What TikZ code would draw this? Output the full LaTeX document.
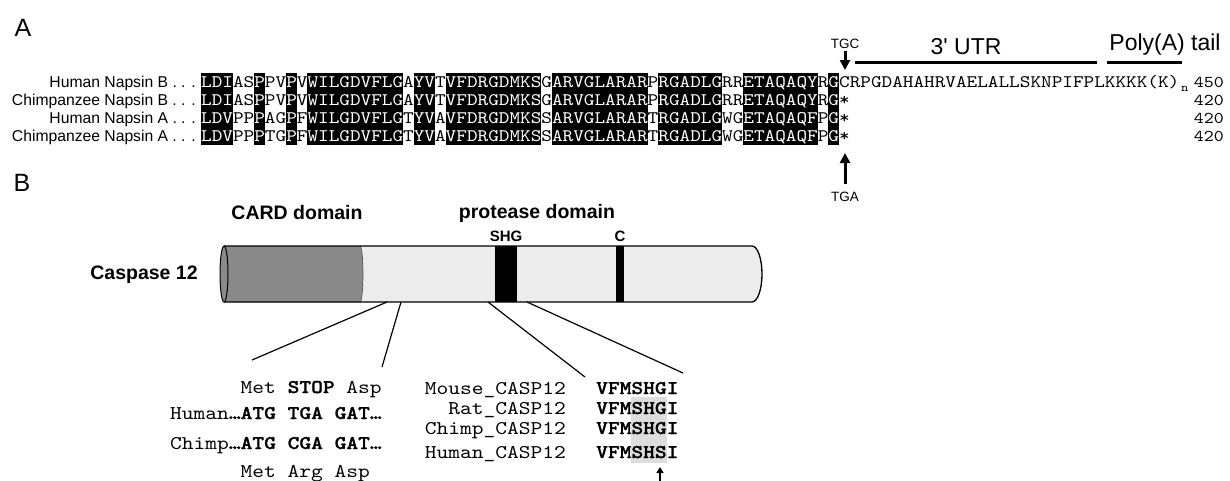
\documentclass[tikz,border=0pt]{standalone}
\usepackage{fontspec}
\setmainfont{Liberation Sans}
\newfontfamily\uifont{Liberation Sans}
% slab-serif typewriter face, widened to the usual 0.6em pitch
\newfontfamily\seqfont{lmmono10-regular.otf}[FakeStretch=1.15, BoldFont=lmmonolt10-bold.otf, BoldFeatures={FakeStretch=1.15, FakeBold=1.2}]
\usetikzlibrary{arrows.meta}

\definecolor{cardgray}{HTML}{8A8A8A}
\definecolor{bodygray}{HTML}{ECECEC}
\definecolor{hlgray}{HTML}{DDDDDD}

\newcommand\W[1]{\textcolor{white}{#1}}
% column width of the alignment font and row pitch
\def\cw{10.634}
\def\ph{18}
\def\ra{82}
\def\rb{100}
\def\rc{118}
\def\rd{136}

\tikzset{
  panel/.style={inner sep=0pt, font=\fontsize{25}{25}\selectfont},
  rowlbl/.style={inner sep=0pt, anchor=base east, font=\fontsize{15.7}{16}\selectfont},
  seqtxt/.style={inner sep=0pt, anchor=base west, font=\seqfont\fontsize{17.61}{18}\selectfont},
  numtxt/.style={inner sep=0pt, anchor=base east, font=\seqfont\fontsize{16.5}{17}\selectfont},
  sitelbl/.style={inner sep=0pt, font=\fontsize{13.5}{14}\selectfont},
  regionlbl/.style={inner sep=0pt, font=\uifont\fontsize{23}{23}\selectfont},
  regline/.style={line width=3pt},
  codon/.style={line width=3pt, -{Triangle[width=10pt,length=10pt]}},
  domlbl/.style={inner sep=0pt, font=\bfseries\fontsize{19.5}{20}\selectfont},
  motiflbl/.style={inner sep=0pt, font=\bfseries\fontsize{15}{15}\selectfont},
  monotxt/.style={inner sep=0pt, font=\seqfont\fontsize{19.46}{20}\selectfont},
  zoomline/.style={line width=1.2pt},
}

\begin{document}
\begin{tikzpicture}[x=1pt,y=-1pt]
\useasboundingbox (0,0) rectangle (1230,480);

% ---------------- panel A: Napsin alignment ----------------
\node[panel] (pA) at (23,28) {A};

% shaded (conserved) columns, given as column ranges
\foreach \a/\b in {1/3,6/6,9/9,11/19,21/22,24/32,34/42,44/49,52/58,60/60}{
  \fill ({201+(\a-1)*\cw},{\ra-\ph/2}) rectangle ({201+\b*\cw},{\rb+\ph/2});
  \fill ({201+(\a-1)*\cw},{\rc-\ph/2}) rectangle ({201+\b*\cw},{\rd+\ph/2});
}

\node[rowlbl] (lHB) at (196,\ra+5.6) {Human Napsin B . . .};
\node[rowlbl] (lCB) at (196,\rb+5.6) {Chimpanzee Napsin B . . .};
\node[rowlbl] (lHA) at (196,\rc+5.6) {Human Napsin A . . .};
\node[rowlbl] (lCA) at (196,\rd+5.6) {Chimpanzee Napsin A . . .};

\node[seqtxt] (sHB) at (201,\ra+5.4) {\W{LDI}AS\W{P}PV\W{P}V\W{WILGDVFLG}A\W{YV}T\W{VFDRGDMKS}G\W{ARVGLARAR}P\W{RGADLG}RR\W{ETAQAQY}R\W{G}CRPGDAHAHRVAELALLSKNPIFPLKKKK(K)};
\node[seqtxt] (sCB) at (201,\rb+5.4) {\W{LDI}AS\W{P}PV\W{P}V\W{WILGDVFLG}A\W{YV}T\W{VFDRGDMKS}G\W{ARVGLARAR}P\W{RGADLG}RR\W{ETAQAQY}R\W{G}*};
\node[seqtxt] (sHA) at (201,\rc+5.4) {\W{LDV}PP\W{P}AG\W{P}F\W{WILGDVFLG}T\W{YV}A\W{VFDRGDMKS}S\W{ARVGLARAR}T\W{RGADLG}WG\W{ETAQAQF}P\W{G}*};
\node[seqtxt] (sCA) at (201,\rd+5.4) {\W{LDV}PP\W{P}TG\W{P}F\W{WILGDVFLG}T\W{YV}A\W{VFDRGDMKS}S\W{ARVGLARAR}T\W{RGADLG}WG\W{ETAQAQF}P\W{G}*};

\node[inner sep=0pt, anchor=base west, font=\seqfont\fontsize{12}{12}\selectfont] (sub) at (1181,\ra+9) {n};

\node[numtxt] (nHB) at (1224,\ra+5) {450};
\node[numtxt] (nCB) at (1224,\rb+5) {420};
\node[numtxt] (nHA) at (1224,\rc+5) {420};
\node[numtxt] (nCA) at (1224,\rd+5) {420};

% stop codons and 3' region
\node[sitelbl] (tgc) at (845,44) {TGC};
\node[sitelbl] (tga) at (845,197) {TGA};
\coordinate (tgcTail) at (845,51);
\coordinate (tgcTip) at (845,70);
\coordinate (tgaTail) at (845,184);
\coordinate (tgaTip) at (845,153);
\draw[codon] (tgcTail) -- (tgcTip);
\draw[codon] (tgaTail) -- (tgaTip);

\coordinate (utrA) at (855,62);
\coordinate (utrB) at (1097,62);
\coordinate (polA) at (1107,62);
\coordinate (polB) at (1182,62);
\draw[regline] (utrA) -- (utrB);
\draw[regline] (polA) -- (polB);
\node[regionlbl] (utr) at (966,47) {3' UTR};
\node[regionlbl] (poly) at (1165,45) {Poly(A) tail};

% ---------------- panel B: caspase 12 ----------------
\node[panel] (pB) at (22,183) {B};

\node[domlbl] (card) at (297,213) {CARD domain};
\node[domlbl] (prot) at (537,213) {protease domain};
\node[motiflbl] (shg) at (506,236) {SHG};
\node[motiflbl] (cys) at (620,236) {C};
\node[domlbl] (casp) at (144,275) {Caspase 12};

% cylinder body
\fill[bodygray] (224,246) -- (752,246) arc[start angle=-90, end angle=90, x radius=10, y radius=28] -- (224,302) -- cycle;
\fill[cardgray] (224,246) -- (360,246) arc[start angle=-90, end angle=90, x radius=3, y radius=28] -- (224,302) -- cycle;
\draw[line width=0.6pt, black!70] (360,246) arc[start angle=-90, end angle=90, x radius=3, y radius=28];
\fill[black] (495,246) rectangle (517,302);
\fill[black] (616,246) rectangle (624,302);
\draw[line width=1.3pt] (224,246) -- (752,246) arc[start angle=-90, end angle=90, x radius=10, y radius=28] -- (224,302);
\draw[line width=1pt, fill=cardgray] (224,274) ellipse[x radius=4, y radius=28];

% zoom lines from the cylinder to the sequences
\coordinate (z1) at (387,302);
\coordinate (z2) at (401,302);
\coordinate (z3) at (488,302);
\coordinate (z4) at (527,302);
\coordinate (e1) at (252,360);
\coordinate (e2) at (382,367);
\coordinate (e3) at (585,377);
\coordinate (e4) at (683,373);
\draw[zoomline] (z1) -- (e1);
\draw[zoomline] (z2) -- (e2);
\draw[zoomline] (z3) -- (e3);
\draw[zoomline] (z4) -- (e4);

% codon comparison
\node[monotxt, anchor=base west] (cod1) at (240.5,393) {Met \textbf{STOP} Asp};
\node[monotxt, anchor=base west] (cod2) at (170,419) {Human\textbf{…ATG TGA GAT…}};
\node[monotxt, anchor=base west] (cod3) at (170,449) {Chimp\textbf{…ATG CGA GAT…}};
\node[monotxt, anchor=base west] (cod4) at (240.5,477) {Met Arg Asp};

% motif comparison
\fill[hlgray] (631,397) rectangle (666.5,463);
\node[monotxt, anchor=base east] (m1) at (566,394) {Mouse\_CASP12};
\node[monotxt, anchor=base east] (m2) at (566,414) {Rat\_CASP12};
\node[monotxt, anchor=base east] (m3) at (566,434) {Chimp\_CASP12};
\node[monotxt, anchor=base east] (m4) at (566,458) {Human\_CASP12};
\node[monotxt, anchor=base west] (q1) at (596,394) {\textbf{VFMSHGI}};
\node[monotxt, anchor=base west] (q2) at (596,414) {\textbf{VFMSHGI}};
\node[monotxt, anchor=base west] (q3) at (596,434) {\textbf{VFMSHGI}};
\node[monotxt, anchor=base west] (q4) at (596,458) {\textbf{VFMSHSI}};
\coordinate (mutTail) at (660,482);
\coordinate (mutTip) at (660,467);
\draw[line width=2pt, -{Triangle[width=7pt,length=6pt]}] (mutTail) -- (mutTip);
\end{tikzpicture}
\end{document}
